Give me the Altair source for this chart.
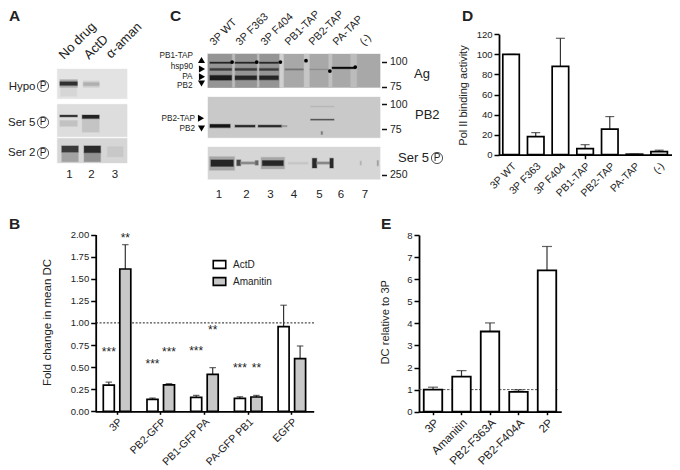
import altair as alt
import pandas as pd

W, H = 664, 462
FONT = "Liberation Sans"
INK = "#222222"

def P(v):
    return v - 8

# ---------- Panel B ----------
b_groups = ["3P", "PB2-GFP", "PB1-GFP PA", "PA-GFP PB1", "EGFP"]
b_series = ["ActD", "Amanitin"]
b_actd = [0.295, 0.135, 0.158, 0.147, 0.958]
b_actd_top = [0.33, 0.15, 0.18, 0.165, 1.20]
b_aman = [1.61, 0.298, 0.418, 0.162, 0.596]
b_aman_top = [1.885, 0.313, 0.494, 0.18, 0.739]
b_star_group = ["3P", "3P", "PB2-GFP", "PB2-GFP", "PB1-GFP PA", "PB1-GFP PA", "PA-GFP PB1", "PA-GFP PB1"]
b_star_series = ["ActD", "Amanitin", "ActD", "Amanitin", "ActD", "Amanitin", "ActD", "Amanitin"]
b_star_y = [0.70, 2.00, 0.57, 0.70, 0.715, 0.955, 0.527, 0.527]
b_star_text = ["***", "**", "***", "***", "***", "**", "***", "**"]

# ---------- Panel D ----------
d_cats = ["3P WT", "3P F363", "3P F404", "PB1-TAP", "PB2-TAP", "PA-TAP", "(-)"]
d_vals = [100, 18, 88, 6, 25.5, 0.5, 3]
d_tops = [100, 22, 116, 10, 38, 0.5, 4.5]

# ---------- Panel E ----------
e_cats = ["3P", "Amanitin", "PB2-F363A", "PB2-F404A", "2P"]
e_vals = [1.0, 1.59, 3.63, 0.9, 6.4]
e_tops = [1.11, 1.86, 4.02, 0.99, 7.48]

# ---------- Blots: lane start, lane end, top %, bottom %, grey ----------
gel_a_hypo = [(0.52, 3.52, 0, 100, "#e3e3e3"),
              (0.66, 1.36, 58, 92, "#d6d6d6"),
              (0.63, 1.38, 36, 62, "#a8a8a8"),
              (0.63, 1.38, 43, 55, "#303030"),
              (1.64, 2.32, 40, 62, "#cfcfcf"),
              (1.64, 2.32, 46, 56, "#b0b0b0")]
gel_a_ser5 = [(0.52, 3.52, 0, 100, "#dddddd"),
              (0.63, 1.38, 50, 68, "#c2c2c2"),
              (0.63, 1.38, 33, 39, "#333333"),
              (1.59, 2.32, 46, 86, "#c4c4c4"),
              (1.59, 2.32, 33, 44, "#222222")]
gel_a_ser2 = [(0.52, 3.52, 0, 100, "#d6d6d6"),
              (0.71, 1.42, 55, 95, "#a2a2a2"),
              (0.71, 1.42, 31, 56, "#3a3a3a"),
              (1.67, 2.38, 55, 95, "#929292"),
              (1.67, 2.38, 31, 58, "#2a2a2a"),
              (2.67, 3.35, 34, 75, "#c8c8c8")]

gel_ag = [(0.56, 7.62, 0, 100, "#a8a8a8"),
          (0.56, 3.5, 0, 100, "#959595"),
          (1.56, 1.66, 0, 100, "#bcbcbc"),
          (2.58, 2.66, 0, 100, "#bcbcbc"),
          (3.5, 3.66, 0, 100, "#d0d0d0"),
          (4.5, 4.72, 0, 100, "#c6c6c6"),
          (5.51, 5.65, 0, 100, "#c0c0c0"),
          (6.41, 6.66, 0, 100, "#bcbcbc"),
          (0.64, 1.53, 24, 28, "#222222"),
          (1.67, 2.56, 24, 28, "#222222"),
          (2.67, 3.45, 24, 28, "#2a2a2a"),
          (0.64, 1.53, 43, 49, "#3a3a3a"),
          (1.67, 2.56, 43, 49, "#3a3a3a"),
          (2.67, 3.45, 43, 49, "#3a3a3a"),
          (0.64, 1.53, 64, 78, "#1c1c1c"),
          (1.67, 2.56, 65, 77, "#262626"),
          (2.67, 3.45, 65, 77, "#262626"),
          (3.72, 4.47, 44, 48, "#757575"),
          (4.74, 5.5, 45, 47, "#888888"),
          (5.65, 6.6, 39, 44, "#000000")]
gel_pb2 = [(0.56, 7.62, 0, 100, "#c9c9c9"),
           (0.64, 1.47, 67, 75, "#141414"),
           (1.67, 2.49, 69, 74, "#2a2a2a"),
           (2.62, 3.58, 69, 74, "#2a2a2a"),
           (3.58, 3.8, 70, 73, "#8c8c8c"),
           (4.77, 5.73, 54, 57, "#555555"),
           (4.77, 5.73, 23, 24.5, "#b2b2b2"),
           (5.2, 5.26, 85, 92, "#777777")]
gel_ser5 = [(0.56, 7.62, 0, 100, "#d6d6d6"),
            (0.62, 1.65, 30, 72, "#a6a6a6"),
            (0.68, 1.6, 40, 60, "#242424"),
            (1.74, 1.9, 40, 58, "#444444"),
            (1.9, 2.5, 46, 53, "#8a8a8a"),
            (2.5, 2.62, 42, 56, "#666666"),
            (2.74, 3.7, 32, 68, "#a6a6a6"),
            (2.79, 3.65, 42, 58, "#262626"),
            (3.85, 4.66, 47, 53, "#c6c6c6"),
            (4.84, 5.02, 35, 65, "#2a2a2a"),
            (5.02, 5.56, 46, 53, "#888888"),
            (5.56, 5.7, 35, 65, "#2a2a2a"),
            (6.8, 6.85, 44, 56, "#b0b0b0"),
            (7.5, 7.55, 42, 58, "#9a9a9a")]

dot_lane = [1.55, 2.56, 3.53, 4.58, 5.56, 6.6]
dot_pos = [24, 24, 24, 20, 51, 39]

lanes_c = [1, 2, 3, 4, 5, 6, 7]


def bar_axis_x(base=0, size=3, font=11.5, only=None):
    kw = {}
    if only:
        kw["tickOpacity"] = alt.condition(f"datum.value == '{only}'", alt.value(1), alt.value(0))
    return alt.Axis(title=None, orient="bottom", offset=P(base) - H, labelAngle=-45,
                    labelAlign="right", labelBaseline="top", labelFont=FONT, labelFontSize=font,
                    labelColor=INK, labelPadding=2, labelOverlap=False, labelLimit=0,
                    tickSize=size, tickWidth=1.5, tickColor="black",
                    domainWidth=1.8, domainColor="black", grid=False, **kw)


def bar_axis_y(title, x, values, fmt, title_x, title_y, font=9.5, title_size=10):
    return alt.Axis(title=title, orient="left", offset=-P(x), values=values, format=fmt,
                    labelFont=FONT, labelFontSize=font, labelColor=INK, labelPadding=2,
                    tickSize=5, tickWidth=1.5, tickColor="black", domainWidth=1.8,
                    domainColor="black", grid=False, labelOverlap=False,
                    titleFont=FONT, titleFontSize=title_size, titleFontWeight="normal", titleColor=INK,
                    titleX=title_x, titleY=P(title_y), titleAngle=270,
                    titleAlign="center", titleBaseline="middle")


# ---------- Panel B ----------
bx = alt.Scale(type="band", domain=b_groups, range=[P(95.2), P(313.7)], paddingInner=0, paddingOuter=0)
by = alt.Scale(domain=[0, 2], range=[P(411.3), P(234.5)])
box = alt.Scale(type="band", domain=b_series, range=[0, 43.7], paddingInner=0.3, paddingOuter=0.474)

b_df = pd.DataFrame({
    "group": b_groups * 2,
    "series": ["ActD"] * 5 + ["Amanitin"] * 5,
    "value": b_actd + b_aman,
    "top": b_actd_top + b_aman_top,
})
star_df = pd.DataFrame({"group": b_star_group, "series": b_star_series,
                        "y": b_star_y, "t": b_star_text})

b_line = alt.Chart(pd.DataFrame({"y": [1.0]})).mark_rule(
    color="#222222", strokeDash=[2, 1.6], strokeWidth=1).encode(
    y=alt.Y("y:Q", scale=by, axis=None), x=alt.value(P(96)), x2=alt.value(P(314)))
b_err = alt.Chart(b_df).mark_rule(color="#333333", strokeWidth=1.2).encode(
    x=alt.X("group:N", scale=bx, axis=None),
    xOffset=alt.XOffset("series:N", scale=box),
    y=alt.Y("value:Q", scale=by, axis=None), y2="top:Q")
b_cap = alt.Chart(b_df).mark_tick(color="#222222", size=6.5, thickness=1.2).encode(
    x=alt.X("group:N", scale=bx, axis=None),
    xOffset=alt.XOffset("series:N", scale=box),
    y=alt.Y("top:Q", scale=by, axis=None))
b_bar = alt.Chart(b_df).mark_bar(width=11, stroke="black", strokeWidth=1.7).encode(
    x=alt.X("group:N", scale=bx, sort=b_groups, axis=bar_axis_x(base=411.3, font=10.6)),
    xOffset=alt.XOffset("series:N", scale=box),
    y=alt.Y("value:Q", scale=by,
            axis=bar_axis_y("Fold change in mean DC", 95.7, [0, .25, .5, .75, 1, 1.25, 1.5, 1.75, 2],
                            ".2f", 48 - 95.7, 322, title_size=11.5)),
    fill=alt.Fill("series:N", scale=alt.Scale(domain=b_series, range=["#ffffff", "#c8c8c8"]),
                  legend=alt.Legend(title=None, orient="none", legendX=P(212), legendY=P(257),
                                    symbolType="M-1,-0.62H1V0.62H-1Z", symbolSize=156,
                                    symbolStrokeColor="black", symbolStrokeWidth=1.6,
                                    labelFont=FONT, labelFontSize=10, labelColor=INK,
                                    labelOffset=6, rowPadding=2)))
b_star = alt.Chart(star_df).mark_text(font=FONT, fontSize=12, color=INK, baseline="middle", dy=3).encode(
    x=alt.X("group:N", scale=bx, axis=None),
    xOffset=alt.XOffset("series:N", scale=box),
    y=alt.Y("y:Q", scale=by, axis=None), text="t:N")

# ---------- Panel D ----------
dx = alt.Scale(type="band", domain=d_cats, range=[P(498.7), P(671.5)], paddingInner=0, paddingOuter=0)
dy = alt.Scale(domain=[0, 120], range=[P(154.7), P(34.3)])
d_df = pd.DataFrame({"c": d_cats, "v": d_vals, "t": d_tops})
d_err = alt.Chart(d_df).mark_rule(color="#333333", strokeWidth=1.2).encode(
    x=alt.X("c:N", scale=dx, axis=None), y=alt.Y("v:Q", scale=dy, axis=None), y2="t:Q")
d_cap = alt.Chart(d_df).mark_tick(color="#222222", size=9, thickness=1.2).encode(
    x=alt.X("c:N", scale=dx, axis=None), y=alt.Y("t:Q", scale=dy, axis=None))
d_bar = alt.Chart(d_df).mark_bar(width=16.5, stroke="black", strokeWidth=1.7, fill="white").encode(
    x=alt.X("c:N", scale=dx, sort=d_cats, axis=bar_axis_x(base=154.7, size=4, font=10.5, only="PB1-TAP")),
    y=alt.Y("v:Q", scale=dy,
            axis=bar_axis_y("Pol II binding activity", 499, [0, 20, 40, 60, 80, 100, 120], "d",
                            463 - 499, 95, title_size=11)))

# ---------- Panel E ----------
ex = alt.Scale(type="band", domain=e_cats, range=[P(418.75), P(561.25)], paddingInner=0, paddingOuter=0)
ey = alt.Scale(domain=[0, 8], range=[P(411.7), P(235)])
e_df = pd.DataFrame({"c": e_cats, "v": e_vals, "t": e_tops})
e_line = alt.Chart(pd.DataFrame({"y": [1.0]})).mark_rule(
    color="#555555", strokeDash=[2.5, 1.5], strokeWidth=1).encode(
    y=alt.Y("y:Q", scale=ey, axis=None), x=alt.value(P(419)), x2=alt.value(P(558)))
e_err = alt.Chart(e_df).mark_rule(color="#333333", strokeWidth=1.2).encode(
    x=alt.X("c:N", scale=ex, axis=None), y=alt.Y("v:Q", scale=ey, axis=None), y2="t:Q")
e_cap = alt.Chart(e_df).mark_tick(color="#222222", size=10, thickness=1.2).encode(
    x=alt.X("c:N", scale=ex, axis=None), y=alt.Y("t:Q", scale=ey, axis=None))
e_bar = alt.Chart(e_df).mark_bar(width=18.5, stroke="black", strokeWidth=1.8, fill="white").encode(
    x=alt.X("c:N", scale=ex, sort=e_cats, axis=bar_axis_x(base=411.7)),
    y=alt.Y("v:Q", scale=ey,
            axis=bar_axis_y("DC relative to 3P", 419, list(range(9)), "d", 385.7 - 419, 321.7, title_size=11.2)))


# ---------- Blots ----------
def gel(rows, lanes, left, right, top, bottom):
    df = pd.DataFrame(rows, columns=["x0", "x1", "y0", "y1", "c"])
    sx = alt.Scale(domain=lanes, range=[P(left), P(right)])
    sy = alt.Scale(domain=[0, 100], range=[P(top), P(bottom)])
    return alt.Chart(df).mark_rect(strokeWidth=1.2, strokeOpacity=0.35, clip=False).encode(
        x=alt.X("x0:Q", scale=sx, axis=None), x2="x1:Q",
        y=alt.Y("y0:Q", scale=sy, axis=None), y2="y1:Q",
        fill=alt.Fill("c:N", scale=None), stroke=alt.Stroke("c:N", scale=None),
        order=alt.Order("idx:Q"),
    ).transform_window(idx="row_number()")


def mw_axis(values, domain, yr):
    sy = alt.Scale(domain=domain, range=[P(yr[0]), P(yr[1])])
    df = pd.DataFrame({"mw": values})
    return alt.Chart(df).mark_point(opacity=0).encode(
        x=alt.value(0),
        y=alt.Y("mw:Q", scale=sy,
                axis=alt.Axis(title=None, orient="right", offset=P(381.5) - W, values=values, format="d",
                              domain=False, grid=False, tickSize=5, tickWidth=1.5, tickColor="#111111",
                              labelFont=FONT, labelFontSize=10.5, labelColor=INK, labelPadding=3)))


A_L = [1, 3]
C_L = [1, 7]
gels = [
    gel(gel_a_hypo, A_L, 68.5, 115, 69, 98.7),
    gel(gel_a_ser5, A_L, 68.5, 115, 104.3, 136.7),
    gel(gel_a_ser2, A_L, 68.5, 115, 138.3, 163),
    gel(gel_ag, C_L, 218.7, 365, 54, 87.5),
    gel(gel_pb2, C_L, 218.7, 365, 97, 137.7),
    gel(gel_ser5, C_L, 218.7, 365, 147, 179.3),
]
dots = alt.Chart(pd.DataFrame({"l": dot_lane, "p": dot_pos})).mark_point(
    filled=True, color="black", size=14, opacity=1).encode(
    x=alt.X("l:Q", scale=alt.Scale(domain=C_L, range=[P(218.7), P(365)]), axis=None),
    y=alt.Y("p:Q", scale=alt.Scale(domain=[0, 100], range=[P(54), P(87.5)]), axis=None))
mws = [mw_axis([100, 75], [100, 75], (61.7, 86.7)),
       mw_axis([100, 75], [100, 75], (104.3, 129)),
       mw_axis([250], [250, 300], (174.7, 164))]


# ---------- Annotation text ----------
def texts(rows, size, align="left", angle=0, weight="normal", baseline="middle"):
    df = pd.DataFrame(rows, columns=["t", "x", "y"])
    df["x"] = df["x"] - 8
    df["y"] = df["y"] - 8
    return alt.Chart(df).mark_text(font=FONT, fontSize=size, align=align, angle=angle,
                                   fontWeight=weight, baseline=baseline, color=INK).encode(
        x=alt.X("x:Q", scale=None), y=alt.Y("y:Q", scale=None), text="t:N")


def marks(rows, shape, size, filled=True, color="black", sw=0.8):
    df = pd.DataFrame(rows, columns=["x", "y"])
    df["x"] = df["x"] - 8
    df["y"] = df["y"] - 8
    return alt.Chart(df).mark_point(shape=shape, size=size, filled=filled, color=color,
                                    strokeWidth=sw, opacity=1).encode(
        x=alt.X("x:Q", scale=None), y=alt.Y("y:Q", scale=None))


panel_letters = texts([("A", 9, 16), ("B", 9, 224), ("C", 170, 16), ("D", 462, 16), ("E", 381, 224)],
                      15.5, weight="bold")
a_heads = texts([("No drug", 64, 60), ("ActD", 89, 60), ("α-aman", 111, 59)], 13, angle=315, baseline="alphabetic")
a_names = texts([("Hypo", 35.5, 86.5), ("Ser 5", 35.5, 122.5), ("Ser 2", 35.5, 153)], 11.5, align="right")
a_nums = texts([("1", 69.5, 174.5), ("2", 91.5, 174.5), ("3", 115, 174.5)], 11.5, align="center")
circle_p_pos = [(43, 86), (43, 122.3), (43, 153), (437, 158)]
circles = marks(circle_p_pos, "circle", 125, filled=False, color=INK)
p_letters = texts([("P", x, y) for x, y in circle_p_pos], 10, align="center")
c_heads = texts([("3P WT", 214, 46), ("3P F363", 240, 46), ("3P F404", 265, 46), ("PB1-TAP", 289, 46),
                 ("PB2-TAP", 313, 46), ("PA-TAP", 337, 46), ("(-)", 364, 46)],
                10.8, angle=315, baseline="alphabetic")
c_side = texts([("PB1-TAP", 193, 56), ("hsp90", 193, 67), ("PA", 192.5, 77), ("PB2", 192.5, 86),
                ("PB2-TAP", 195, 118.5), ("PB2", 195, 129)], 8.2, align="right")
c_names = texts([("Ag", 414, 74), ("PB2", 415, 115), ("Ser 5", 398, 158)], 13)
c_nums = texts([(str(n), x, 194.5) for n, x in zip(lanes_c, [219, 246.5, 270.5, 294, 319.5, 341, 365])],
               11.5, align="center")
t_right = marks([(202, 69), (202, 76.7), (201, 118.3)], "triangle-right", 50)
t_up = marks([(201.5, 60)], "triangle-up", 50)
t_down = marks([(201.5, 83.5), (201.5, 128.5)], "triangle-down", 50)

chart = alt.layer(
    *gels, dots, *mws,
    b_line, b_err, b_cap, b_bar, b_star,
    d_err, d_cap, d_bar,
    e_line, e_err, e_cap, e_bar,
    panel_letters, a_heads, a_names, a_nums, circles, p_letters,
    c_heads, c_side, c_names, c_nums, t_right, t_up, t_down,
).resolve_scale(x="independent", y="independent").resolve_axis(x="independent", y="independent").properties(
    width=W, height=H, padding=0, background="white",
    autosize=alt.AutoSizeParams(type="none"),
).configure_view(stroke=None)

chart.save("out.html", embed_options={"renderer": "svg", "actions": False})
